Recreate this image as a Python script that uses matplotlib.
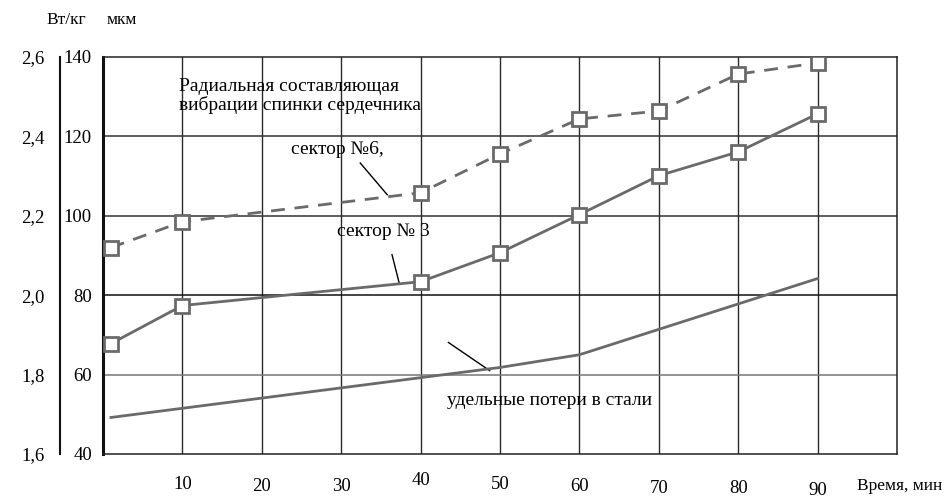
import matplotlib
matplotlib.use("Agg")
import matplotlib.pyplot as plt

plt.rcParams['font.family'] = ['Liberation Serif', 'DejaVu Serif']

# ---- data ----
x_vib = [1, 10, 40, 50, 60, 70, 80, 90]
sector6 = [92.0, 98.5, 105.8, 115.6, 124.4, 126.4, 135.7, 138.5]   # мкм
sector3 = [67.8, 77.4, 83.4, 90.7, 100.3, 110.1, 116.1, 125.7]     # мкм
x_loss = [1, 50, 60, 90]
loss = [1.692, 1.818, 1.85, 2.042]                                 # Вт/кг

xticks = [10, 20, 30, 40, 50, 60, 70, 80, 90]
xtick_labels = ['10', '20', '30', '40', '50', '60', '70', '80', '90']
yticks_um = [40, 60, 80, 100, 120, 140]
ytick_um_labels = ['40', '60', '80', '100', '120', '140']
yticks_w = [1.6, 1.8, 2.0, 2.2, 2.4, 2.6]
ytick_w_labels = ['1,6', '1,8', '2,0', '2,2', '2,4', '2,6']

# style only: vertical offsets of x labels (axes fraction)
xlab_dy = [-0.078, -0.083, -0.083, -0.068, -0.077, -0.083, -0.088, -0.087, -0.091]

W, H = 951, 497
fig = plt.figure(figsize=(W / 100, H / 100), dpi=100)
ax = fig.add_axes([103 / W, 1 - 454 / H, (897 - 103) / W, (454 - 57) / H])

ax.set_xlim(0, 100)
ax.set_ylim(40, 140)

# grid
for xv in xticks:
    ax.axvline(xv, color='#2a2a2a', lw=1.0, zorder=1)
for yv, c in zip([60, 80, 100, 120], ['#777777', '#111111', '#333333', '#333333']):
    ax.axhline(yv, color=c, lw=1.1, zorder=1)

for s in ['top', 'right', 'bottom']:
    ax.spines[s].set_color('#222222')
    ax.spines[s].set_linewidth(1.1)
ax.spines['left'].set_linewidth(2.2)
ax.spines['left'].set_color('#111111')

ax.set_xticks([])
ax.set_yticks(yticks_um)
ax.set_yticklabels(ytick_um_labels, fontsize=13.5)
ax.tick_params(axis='y', length=0, pad=8)

lc = '#6a6a6a'
ax.plot(x_vib, sector6, color=lc, lw=2.0, ls=(0, (5, 3.5)), marker='s', ms=10,
        mfc='white', mec=lc, mew=2.0, zorder=3)
ax.plot(x_vib, sector3, color=lc, lw=2.0, marker='s', ms=10,
        mfc='white', mec=lc, mew=2.0, zorder=3)

# twin axis for Вт/кг
ax2 = ax.twinx()
ax2.set_ylim(1.6, 2.6)
ax2.yaxis.set_ticks_position('left')
ax2.yaxis.set_label_position('left')
ax2.spines['left'].set_visible(True)
ax2.spines['left'].set_position(('outward', 31))
ax2.spines['left'].set_linewidth(1.5)
ax2.spines['left'].set_color('#111111')
for s in ['top', 'right', 'bottom']:
    ax2.spines[s].set_visible(False)
ax2.set_yticks(yticks_w)
ax2.set_yticklabels(ytick_w_labels, fontsize=13.5)
ax2.tick_params(axis='y', length=0, pad=11)
ax2.plot(x_loss, loss, color=lc, lw=2.0, zorder=3)

# x tick labels
tr = ax.get_xaxis_transform()
for xv, lab, dy in zip(xticks, xtick_labels, xlab_dy):
    ax.text(xv, dy, lab, transform=tr, ha='center', va='center', fontsize=13.5)
ax.text((857 - 103) / 794, -0.08, 'Время, мин', transform=ax.transAxes, ha='left',
        va='center', fontsize=12.5, clip_on=False)

# units
fig.text(46 / W, 1 - 20 / H, 'Вт/кг', ha='left', va='center', fontsize=12.5)
fig.text(107 / W, 1 - 20 / H, 'мкм', ha='left', va='center', fontsize=12.5)

# annotations
ax.text(9.6, 130.2, 'Радиальная составляющая\nвибрации спинки сердечника',
        ha='left', va='center', fontsize=14, linespacing=1.08)
ax.text(29.5, 116.6, 'сектор №6,', ha='center', va='center', fontsize=14)
ax.plot([32.4, 35.8], [113.3, 105.3], color='black', lw=1.0)
ax.text(35.3, 96.0, 'сектор № 3', ha='center', va='center', fontsize=14)
ax.plot([36.4, 37.3], [90.2, 83.1], color='black', lw=1.0)
ax.text(43.3, 53.5, 'удельные потери в стали', ha='left', va='center', fontsize=14)
ax.plot([43.5, 48.7], [68.1, 61.0], color='black', lw=1.0)

fig.savefig('out.png', dpi=100)
